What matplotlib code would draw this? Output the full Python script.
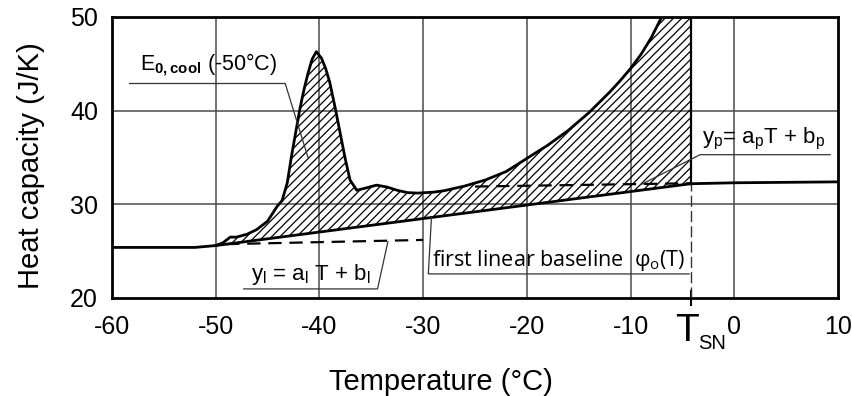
import matplotlib
matplotlib.use("Agg")
import matplotlib.pyplot as plt
import matplotlib.transforms as mtransforms
import numpy as np

plt.rcParams['font.family'] = ['Liberation Sans', 'DejaVu Sans']
plt.rcParams['mathtext.fontset'] = 'custom'
plt.rcParams['mathtext.rm'] = 'Liberation Sans'
plt.rcParams['mathtext.bf'] = 'Liberation Sans:bold'
plt.rcParams['mathtext.it'] = 'Liberation Sans:italic'
plt.rcParams['hatch.linewidth'] = 0.9

# ---------------- data ----------------
T_SN = -4.2

# measured heat capacity during cooling (before T_SN)
curve_T = [-60, -55, -52, -51, -50, -49.3, -48.6, -48, -47, -46.05, -45, -44.1,
           -43.6, -43.1, -42.7, -42.3, -41.9, -41.5, -41.1, -40.7, -40.3, -39.8,
           -39.4, -39.0, -38.5, -38.0, -37.5, -37.05, -36.4, -35.5, -34.5, -33.5,
           -32.5, -31.5, -30.5, -29, -28, -26, -24, -22, -20, -18, -16, -14,
           -12, -11, -10, -9, -8, -7, -6, -5, T_SN]
curve_Cp = [25.4, 25.4, 25.4, 25.5, 25.6, 25.9, 26.5, 26.5, 26.8, 27.3, 28.2, 29.75,
            30.4, 32.3, 35.1, 37.6, 40.1, 42.2, 44.0, 45.5, 46.3, 45.6,
            44.5, 43.0, 40.4, 37.6, 34.8, 32.6, 31.5, 31.75, 32.05, 31.85,
            31.5, 31.25, 31.2, 31.3, 31.45, 31.95, 32.6, 33.5, 34.9, 36.3, 37.9, 39.8,
            42.0, 43.2, 44.5, 46.0, 47.8, 50.0, 52.6, 55.5, 58.0]

# measured heat capacity after T_SN
after_T = [T_SN, 0, 5, 10]
after_Cp = [32.2, 32.3, 32.35, 32.4]

# first linear baseline phi_0(T)
base_T = [-50, T_SN]
base_Cp = [25.6, 32.2]

# linear fits
yl_T = [-49, -30]
yl_Cp = [25.75, 26.2]
yp_T = [-25, T_SN]
yp_Cp = [31.9, 32.25]

xticks = [-60, -50, -40, -30, -20, -10, 0, 10]
xtick_labels = ['-60', '-50', '-40', '-30', '-20', '-10', '0', '10']
yticks = [20, 30, 40, 50]
ytick_labels = ['20', '30', '40', '50']

# ---------------- figure ----------------
fig = plt.figure(figsize=(8.52, 3.96), dpi=100)
ax = fig.add_axes([112/852, 1-298/396, 726/852, 281/396])
ax.set_xlim(-60, 10)
ax.set_ylim(20, 50)

gridc = '#4a4a4a'
for x in [-50, -40, -30, -20, -10, 0]:
    ax.axvline(x, color=gridc, lw=1.1, zorder=1)
for y in [30, 40]:
    ax.axhline(y, color=gridc, lw=1.1, zorder=1)

# hatched area between curve and baseline
cT = np.array(curve_T)
cC = np.array(curve_Cp)
mask = cT >= base_T[0]
fT = cT[mask]
fbase = np.interp(fT, base_T, base_Cp)
ax.fill_between(fT, cC[mask], fbase, facecolor='none', edgecolor='black',
                hatch='////', lw=0, zorder=2)

ax.plot(curve_T, curve_Cp, color='black', lw=2.0, zorder=4,
        solid_joinstyle='round')
ax.plot([T_SN, T_SN], [base_Cp[1], 58], color='black', lw=1.6, zorder=4)
ax.plot(after_T, after_Cp, color='black', lw=2.0, zorder=4)
ax.plot(base_T, base_Cp, color='black', lw=2.0, zorder=4)
ax.plot(yl_T, yl_Cp, color='black', lw=1.6, dashes=(6, 3.5), zorder=4)
ax.plot(yp_T, yp_Cp, color='black', lw=1.6, dashes=(6, 3.5), zorder=4)
ax.plot([T_SN, T_SN], [20, base_Cp[1]], color='#333333', lw=1.0,
        dashes=(8, 3), zorder=3)

# annotations
lc = '#333333'
ax.plot([-58.3, -43.3, -41.1], [42.9, 42.9, 35.0], color=lc, lw=0.9, zorder=5)
ax.text(-57.3, 44.3, r'E$_{\mathbf{0,cool}}$ (-50°C)', fontsize=15.5,
        ha='left', va='baseline', zorder=6)

ax.plot([-47.3, -34.4, -33.4], [20.97, 20.97, 26.0], color=lc, lw=0.9, zorder=5)
ax.text(-46.6, 21.9, r'y$_{\mathregular{l}}$ = a$_{\mathregular{l}}$ T + b$_{\mathregular{l}}$',
        fontsize=16, ha='left', va='baseline', zorder=6)

ax.plot([-29.2, -29.5, -4.35], [28.6, 22.57, 22.57], color=lc, lw=0.9, zorder=5)
ax.text(-29.1, 23.4, 'first linear baseline  φ$_{\\mathregular{o}}$(T)',
        fontsize=15.5, family=['Open Sans', 'DejaVu Sans'],
        ha='left', va='baseline', zorder=6)

ax.plot([-9.0, -3.3, 9.25], [32.1, 35.3, 35.3], color=lc, lw=0.9, zorder=5)
ax.text(-3.1, 36.5, r'y$_{\mathregular{p}}$= a$_{\mathregular{p}}$T + b$_{\mathregular{p}}$',
        fontsize=16, ha='left', va='baseline', zorder=6)

# axes styling
for s in ax.spines.values():
    s.set_linewidth(2.0)
ax.set_xticks(xticks)
ax.set_xticklabels(xtick_labels)
ax.set_yticks(yticks)
ax.set_yticklabels(ytick_labels)
ax.tick_params(axis='both', length=0, labelsize=18)
ax.tick_params(axis='x', pad=12)
ax.tick_params(axis='y', pad=10)
ax.set_xticks([-50, T_SN], minor=True)
ax.tick_params(axis='x', which='minor', direction='inout', length=12, width=1.5)

trans = mtransforms.blended_transform_factory(ax.transData, ax.transAxes)
ax.text(T_SN - 0.4, -0.052, 'T', transform=trans, fontsize=28,
        ha='center', va='top')
ax.text(T_SN + 0.75, -0.128, 'SN', transform=trans, fontsize=14.5,
        ha='left', va='top')

ax.set_ylabel('Heat capacity (J/K)', fontsize=21)
ax.yaxis.set_label_coords(-0.092, 0.47)
ax.set_xlabel('Temperature (°C)', fontsize=21)
ax.xaxis.set_label_coords(0.453, -0.25)
ax.xaxis.label.set_va('top')

fig.savefig('out.png', dpi=100)
